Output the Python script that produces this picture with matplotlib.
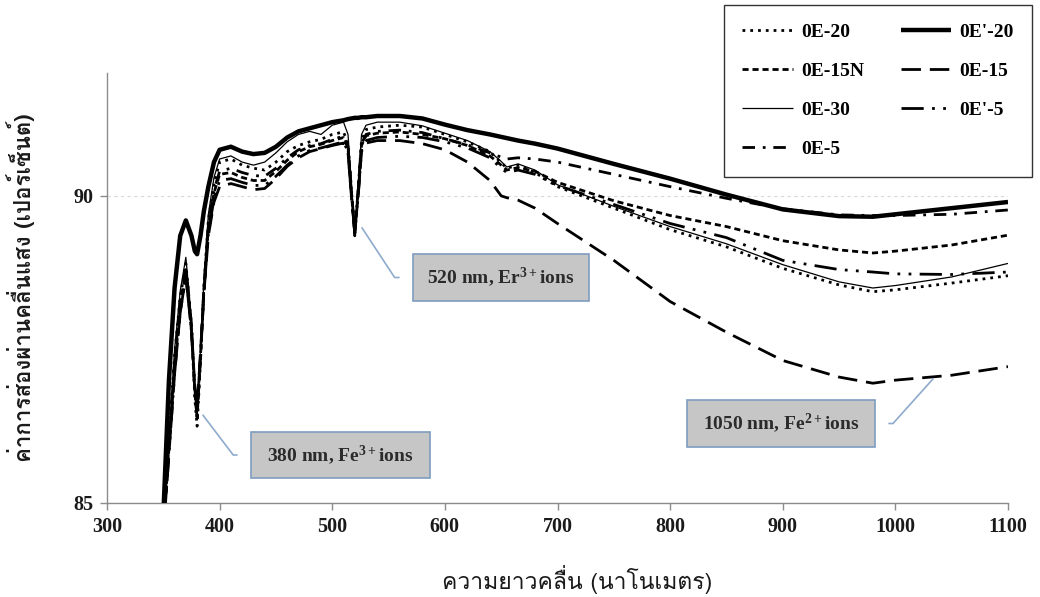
import matplotlib
matplotlib.use("Agg")
import matplotlib.pyplot as plt
from matplotlib import font_manager
from matplotlib.ft2font import FT2Font
from matplotlib.patches import Rectangle

# ---------------- data ----------------
wavelength = [350, 355, 360, 365, 370, 375, 378, 380, 383, 386,
              390, 395, 400, 410, 420, 430, 440, 450, 460, 470,
              480, 490, 500, 510, 514, 517, 520, 523, 526, 530,
              540, 560, 580, 600, 620, 640, 650, 655, 665, 680,
              700, 750, 800, 850, 900, 950, 980, 1000, 1050, 1100]

t_0E20 = [84.6, 86.0, 87.4, 88.35, 88.9, 87.9, 86.7, 86.25, 87.3, 88.5,
          89.6, 90.2, 90.55, 90.6, 90.5, 90.45, 90.42, 90.55, 90.72, 90.82,
          90.88, 90.92, 91.0, 91.04, 90.85, 90.1, 89.35, 90.1, 90.9, 91.08,
          91.12, 91.15, 91.12, 91.0, 90.88, 90.72, 90.54, 90.45, 90.5, 90.38,
          90.15, 89.8, 89.45, 89.17, 88.82, 88.55, 88.44, 88.47, 88.58, 88.7]

t_0Ep20 = [84.8, 87.0, 88.5, 89.35, 89.6, 89.35, 89.1, 89.05, 89.35, 89.75,
           90.15, 90.55, 90.75, 90.8, 90.72, 90.68, 90.7, 90.8, 90.95, 91.05,
           91.1, 91.15, 91.2, 91.23, 91.25, 91.26, 91.27, 91.27, 91.28, 91.28,
           91.3, 91.3, 91.26, 91.16, 91.07, 91.0, 90.96, 90.94, 90.9, 90.85,
           90.77, 90.52, 90.28, 90.02, 89.78, 89.67, 89.66, 89.7, 89.8, 89.9]

t_0E15N = [84.5, 85.9, 87.2, 88.2, 88.8, 87.8, 86.8, 86.4, 87.35, 88.45,
           89.5, 90.05, 90.35, 90.38, 90.3, 90.25, 90.25, 90.4, 90.58, 90.72,
           90.8, 90.84, 90.9, 90.95, 90.78, 90.05, 89.38, 90.05, 90.82, 90.98,
           91.02, 91.04, 91.0, 90.93, 90.82, 90.65, 90.5, 90.42, 90.46, 90.4,
           90.22, 89.92, 89.68, 89.5, 89.27, 89.12, 89.07, 89.1, 89.2, 89.36]

t_0E15 = [84.5, 85.8, 87.1, 88.1, 88.7, 87.8, 86.9, 86.55, 87.45, 88.4,
          89.35, 89.9, 90.15, 90.2, 90.15, 90.1, 90.12, 90.28, 90.48, 90.62,
          90.72, 90.77, 90.82, 90.86, 90.7, 90.0, 89.42, 90.0, 90.72, 90.86,
          90.9, 90.9, 90.85, 90.75, 90.55, 90.25, 90.0, 89.97, 89.93, 89.8,
          89.55, 88.95, 88.28, 87.78, 87.32, 87.05, 86.95, 87.0, 87.08, 87.22]

t_0E30 = [84.7, 86.1, 87.5, 88.45, 89.0, 88.0, 86.9, 86.45, 87.5, 88.6,
          89.7, 90.3, 90.6, 90.65, 90.55, 90.5, 90.55, 90.7, 90.88, 91.0,
          91.05, 91.0, 91.15, 91.2, 91.0, 90.2, 89.4, 90.2, 91.0, 91.15,
          91.2, 91.2, 91.14, 91.02, 90.9, 90.72, 90.56, 90.47, 90.52, 90.42,
          90.18, 89.83, 89.5, 89.22, 88.88, 88.6, 88.5, 88.54, 88.68, 88.9]

t_0Ep5 = [84.5, 85.8, 87.1, 88.1, 88.7, 87.8, 86.85, 86.5, 87.4, 88.4,
          89.4, 89.95, 90.25, 90.28, 90.22, 90.17, 90.17, 90.32, 90.5, 90.65,
          90.74, 90.78, 90.83, 90.88, 90.72, 90.0, 89.4, 90.0, 90.75, 90.9,
          90.95, 90.97, 90.95, 90.88, 90.78, 90.62, 90.45, 90.38, 90.42, 90.35,
          90.17, 89.86, 89.55, 89.32, 88.95, 88.8, 88.76, 88.73, 88.72, 88.76]

t_0E5 = [84.6, 86.0, 87.3, 88.3, 88.85, 87.9, 86.8, 86.4, 87.4, 88.5,
         89.55, 90.1, 90.4, 90.45, 90.38, 90.33, 90.32, 90.45, 90.62, 90.75,
         90.82, 90.85, 90.92, 90.97, 90.8, 90.1, 89.4, 90.1, 90.85, 91.0,
         91.05, 91.07, 91.03, 90.93, 90.83, 90.7, 90.63, 90.6, 90.62, 90.6,
         90.55, 90.35, 90.15, 89.96, 89.79, 89.69, 89.68, 89.68, 89.7, 89.77]

x_ticks = [300, 400, 500, 600, 700, 800, 900, 1000, 1100]
y_ticks = [85, 90]

# ---------------- fonts ----------------
def pick_thai_family(preferred):
    names = {f.name for f in font_manager.fontManager.ttflist}
    for n in preferred:
        if n in names:
            return n
    for f in font_manager.fontManager.ttflist:
        try:
            if 0x0E04 in FT2Font(f.fname).get_charmap():
                return f.name
        except Exception:
            pass
    return "DejaVu Sans"

THAI = pick_thai_family(["Loma", "Sarabun", "Taviraj"])
SERIF = "Liberation Serif"

plt.rcParams["font.family"] = [SERIF, "DejaVu Sans"]
plt.rcParams["mathtext.fontset"] = "custom"
plt.rcParams["mathtext.rm"] = "Liberation Serif:bold"
plt.rcParams["mathtext.bf"] = "Liberation Serif:bold"
plt.rcParams["mathtext.it"] = "Liberation Serif:bold"

# ---------------- figure ----------------
fig = plt.figure(figsize=(10.4, 5.97), dpi=100)
ax = fig.add_axes([107 / 1040, 94 / 597, 901 / 1040, 430 / 597])

series = [
    ("0E-20", t_0E20, dict(lw=2.0, ls=(0, (1, 1.8)))),
    ("0E-15N", t_0E15N, dict(lw=2.0, ls=(0, (2.2, 1.4)))),
    ("0E-30", t_0E30, dict(lw=0.9, ls="-")),
    ("0E-5", t_0E5, dict(lw=2.0, ls=(0, (4.5, 2.8, 1, 2.8)))),
    ("0E'-20", t_0Ep20, dict(lw=3.2, ls="-")),
    ("0E-15", t_0E15, dict(lw=2.0, ls=(0, (7, 3.2)))),
    ("0E'-5", t_0Ep5, dict(lw=2.0, ls=(0, (8, 3, 1, 3, 1, 3)))),
]

handles = []
for name, vals, st in series:
    ln, = ax.plot(wavelength, vals, color="black", label=name,
                  solid_capstyle="butt", zorder=3, **st)
    handles.append(ln)

ax.set_xlim(300, 1100)
ax.set_ylim(85, 92)
ax.set_xticks(x_ticks)
ax.set_yticks(y_ticks)
ax.tick_params(axis="both", direction="out", length=5, width=1,
               color="#8c8c8c", labelsize=14.5, pad=5)
for lab in ax.get_xticklabels() + ax.get_yticklabels():
    lab.set_fontweight("bold")
    lab.set_color("#1a1a1a")
for side in ("top", "right"):
    ax.spines[side].set_visible(False)
for side in ("left", "bottom"):
    ax.spines[side].set_color("#8c8c8c")
    ax.spines[side].set_linewidth(1.0)
ax.grid(axis="y", color="#d9d9d9", ls=(0, (3, 3)), lw=0.8, zorder=0)
ax.set_axisbelow(True)

ax.set_xlabel("ความยาวคลื่น (นาโนเมตร)", family=[THAI, "DejaVu Sans"],
              fontsize=16.5, color="#1a1a1a")
ax.xaxis.set_label_coords(0.522, -0.145)
ax.set_ylabel("ค่าการส่องผ่านคลื่นแสง (เปอร์เซ็นต์)", family=[THAI, "DejaVu Sans"],
              fontsize=16, fontweight="bold", color="#1a1a1a")
ax.yaxis.set_label_coords(-0.08, 0.5)

# ---------------- legend ----------------
leg = fig.legend(handles=handles, loc="upper left",
                 bbox_to_anchor=(724 / 1040, 1 - 5 / 597), ncol=2,
                 prop={"family": SERIF, "weight": "bold", "size": 14},
                 frameon=True, fancybox=False, edgecolor="black",
                 handlelength=2.6, handletextpad=0.4, labelspacing=1.1,
                 columnspacing=1.9, borderpad=0.95, borderaxespad=0)
leg.get_frame().set_linewidth(1.0)

# ---------------- callouts ----------------
callouts = [
    # text, leader start (data), box in axes fraction, leader angle, side
    ("380 nm, Fe$^{3+}$ions", (385.2, 86.43), (0.1598, 0.0581, 0.1987, 0.1070), -52.8, "left"),
    ("520 nm, Er$^{3+}$ions", (526.4, 89.48), (0.3396, 0.4698, 0.1954, 0.1093), -56.7, "left"),
    ("1050 nm, Fe$^{2+}$ions", (1033.4, 87.02), (0.6437, 0.1302, 0.2087, 0.1093), -131.9, "right"),
]
for text, start, (bx, by, bw, bh), ang, side in callouts:
    ax.add_patch(Rectangle((bx, by), bw, bh, transform=ax.transAxes,
                           facecolor="#c6c6c6", edgecolor="#7d9cc0",
                           lw=1.2, zorder=5))
    ax.text(bx + bw / 2, by + bh / 2, text, transform=ax.transAxes,
            ha="center", va="center", fontsize=14, fontweight="bold",
            color="#2b2b2b", zorder=6)
    gap = 14 / 901
    tx = bx - gap if side == "left" else bx + bw + gap
    ax.annotate("", xy=start, xycoords="data",
                xytext=(tx, by + bh / 2), textcoords="axes fraction",
                arrowprops=dict(arrowstyle="-", color="#8eaacc", lw=1.2,
                                shrinkA=0, shrinkB=0,
                                connectionstyle=f"angle,angleA=0,angleB={ang},rad=0"),
                zorder=4)

fig.savefig("out.png", dpi=100, facecolor="white")
